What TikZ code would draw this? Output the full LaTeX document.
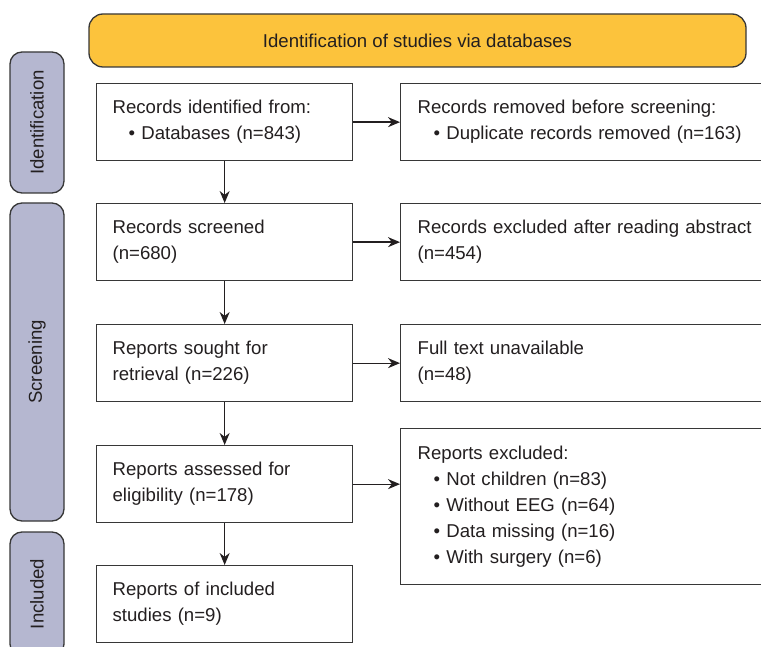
\documentclass[tikz,border=0pt]{standalone}
\usepackage{fontspec}
\setmainfont{Liberation Sans}
\usetikzlibrary{arrows.meta}
\definecolor{txt}{RGB}{35,31,32}
\definecolor{bd}{RGB}{55,55,55}
\definecolor{banner}{RGB}{252,195,60}
\definecolor{sidefill}{RGB}{181,183,208}
\begin{document}
\begin{tikzpicture}[x=1pt,y=-1pt,
  every node/.style={font=\fontsize{18.6}{26}\selectfont, text=txt},
  box/.style={draw=bd, line width=1.3pt, fill=white, anchor=north west, inner sep=0pt, align=left},
  leftbox/.style={box, minimum width=256pt, minimum height=77pt, text width=224pt},
  rightbox/.style={box, minimum width=380pt, text width=346pt},
  sidelabel/.style={draw=bd, line width=1.3pt, fill=sidefill, rounded corners=12pt, rotate=90, minimum height=54pt, inner sep=0pt},
  bannerbox/.style={draw=bd, line width=1.3pt, fill=banner, rounded corners=14pt, minimum width=657pt, minimum height=53pt, inner sep=0pt},
  flow/.style={draw=txt, line width=1.3pt, -{Stealth[length=12pt,width=10pt]}}
]
\useasboundingbox (0,0) rectangle (761,647);
\clip (0,0) rectangle (761,647);

\node[bannerbox] (ban) at (417.5,40.5) {Identification of studies via databases};

\node[sidelabel, minimum width=141pt] (s1) at (37,122.5) {Identification};
\node[sidelabel, minimum width=318pt] (s2) at (37,362) {Screening};
\node[sidelabel, minimum width=124pt] (s3) at (37,594) {Included};

\node[leftbox] (b1) at (96,83) {Records identified from:\\\hspace*{16pt}• Databases (n=843)};
\node[leftbox] (b2) at (96,203) {Records screened\\(n=680)};
\node[leftbox] (b3) at (96,324) {Reports sought for\\retrieval (n=226)};
\node[leftbox] (b4) at (96,445) {Reports assessed for\\eligibility (n=178)};
\node[leftbox] (b5) at (96,565) {Reports of included\\studies (n=9)};

\node[rightbox, minimum height=77pt] (r1) at (400,83) {Records removed before screening:\\\hspace*{16pt}• Duplicate records removed (n=163)};
\node[rightbox, minimum height=77pt] (r2) at (400,203) {Records excluded after reading abstract\\(n=454)};
\node[rightbox, minimum height=77pt] (r3) at (400,324) {Full text unavailable\\(n=48)};
\node[rightbox, minimum height=156pt] (r4) at (400,428) {Reports excluded:\\\hspace*{16pt}• Not children (n=83)\\\hspace*{16pt}• Without EEG (n=64)\\\hspace*{16pt}• Data missing (n=16)\\\hspace*{16pt}• With surgery (n=6)};

\draw[flow] (b1.south) -- (b2.north);
\draw[flow] (b2.south) -- (b3.north);
\draw[flow] (b3.south) -- (b4.north);
\draw[flow] (b4.south) -- (b5.north);

\draw[flow] (b1.east) -- (r1.west);
\draw[flow] (b2.east) -- (r2.west);
\draw[flow] (b3.east) -- (r3.west);
\draw[flow] (b4.east) -- (b4.east -| r4.west);
\end{tikzpicture}
\end{document}
